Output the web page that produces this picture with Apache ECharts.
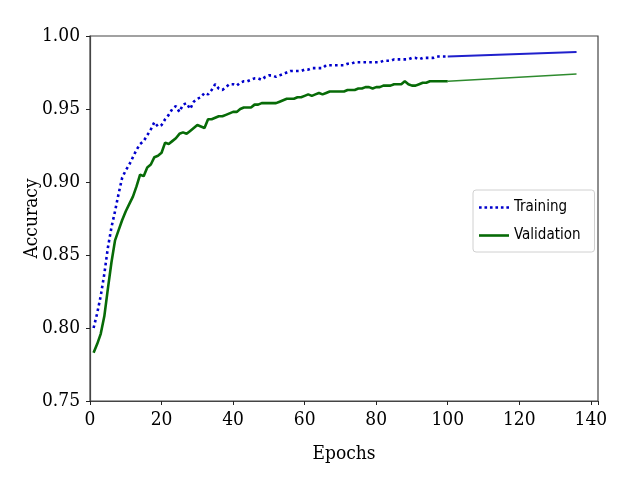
<!DOCTYPE html>
<html>
<head>
<meta charset="utf-8">
<script src="https://cdn.jsdelivr.net/npm/echarts@6/dist/echarts.min.js"></script>
<style>
html,body{margin:0;padding:0;background:#fff;}
#main{width:620px;height:484px;}
</style>
</head>
<body>
<div id="main"></div>
<script>
// accuracy per epoch (epochs 1..100)
var trainAcc = [
 0.800,0.810,0.822,0.837,0.855,0.869,0.880,0.892,0.903,0.908,
 0.912,0.917,0.922,0.926,0.928,0.932,0.936,0.941,0.938,0.939,
 0.943,0.946,0.950,0.952,0.948,0.953,0.954,0.950,0.955,0.957,
 0.958,0.961,0.960,0.963,0.967,0.964,0.963,0.965,0.967,0.967,
 0.966,0.968,0.969,0.969,0.970,0.971,0.971,0.970,0.972,0.973,
 0.973,0.972,0.973,0.974,0.975,0.976,0.976,0.976,0.976,0.977,
 0.977,0.978,0.978,0.978,0.978,0.980,0.980,0.980,0.980,0.980,
 0.980,0.981,0.981,0.982,0.982,0.982,0.982,0.982,0.982,0.982,
 0.982,0.983,0.983,0.983,0.984,0.984,0.984,0.984,0.984,0.985,
 0.985,0.984,0.985,0.985,0.985,0.985,0.986,0.986,0.986,0.986
];
var valAcc = [
 0.783,0.789,0.796,0.808,0.827,0.845,0.860,0.867,0.874,0.880,
 0.885,0.890,0.897,0.905,0.904,0.910,0.912,0.917,0.918,0.920,
 0.927,0.926,0.928,0.930,0.933,0.934,0.933,0.935,0.937,0.939,
 0.938,0.937,0.943,0.943,0.944,0.945,0.945,0.946,0.947,0.948,
 0.948,0.950,0.951,0.951,0.951,0.953,0.953,0.954,0.954,0.954,
 0.954,0.954,0.955,0.956,0.957,0.957,0.957,0.958,0.958,0.959,
 0.960,0.959,0.960,0.961,0.960,0.961,0.962,0.962,0.962,0.962,
 0.962,0.963,0.963,0.963,0.964,0.964,0.965,0.965,0.964,0.965,
 0.965,0.966,0.966,0.966,0.967,0.967,0.967,0.969,0.967,0.966,
 0.966,0.967,0.968,0.968,0.969,0.969,0.969,0.969,0.969,0.969
];
// extension lines (epoch, acc)
var trainExt = [[100,0.986],[136,0.989]];
var valExt = [[100,0.969],[136,0.974]];
var yTicks = [0.75,0.80,0.85,0.90,0.95,1.00];

function pairs(arr){
	var out=[];
	for(var i=0;i<arr.length;i++){ out.push([i+1,arr[i]]); }
	return out;
}

var serif = "'DejaVu Serif Condensed','DejaVu Serif',serif";
var sans = "'DejaVu Sans Condensed','DejaVu Sans',sans-serif";

// legend glyphs: a row of dots and a plain bar
var dotIcon = 'path://M0,0h2.6v2.6h-2.6z M5.4,0h2.6v2.6h-2.6z M10.8,0h2.6v2.6h-2.6z M16.2,0h2.6v2.6h-2.6z M21.6,0h2.6v2.6h-2.6z M27,0h2.6v2.6h-2.6z';
var barIcon = 'path://M0,0h30v2.6h-30z';

var myChart = echarts.init(document.getElementById('main'));
var option = {
	animation:false,
	backgroundColor:'#fff',
	grid:{left:90,right:22,top:36,bottom:83,show:true,borderColor:'#444',borderWidth:1.2},
	legend:{
		data:[{name:'Training',icon:dotIcon},{name:'Validation',icon:barIcon}],
		orient:'vertical',
		left:473,top:190,
		itemWidth:30,itemHeight:12,itemGap:13,symbolKeepAspect:true,
		padding:[10,14,9,6],
		backgroundColor:'#fff',
		borderColor:'#d0d0d0',borderWidth:1,borderRadius:3,
		textStyle:{fontFamily:sans,fontSize:15,color:'#000'}
	},
	xAxis:{
		type:'value',min:0,max:142,interval:20,
		name:'Epochs',nameLocation:'middle',nameGap:44,
		nameTextStyle:{fontFamily:serif,fontSize:19,color:'#000'},
		axisLine:{onZero:false,lineStyle:{color:'#444',width:1.2}},
		axisTick:{length:4,lineStyle:{color:'#222'}},
		axisLabel:{fontFamily:serif,fontSize:19,color:'#000',margin:10,
			formatter:function(v){return v<=140?String(v):'';}},
		splitLine:{show:false}
	},
	yAxis:{
		type:'value',min:yTicks[0],max:yTicks[yTicks.length-1],interval:0.05,
		name:'Accuracy',nameLocation:'middle',nameGap:48,nameMoveOverlap:false,
		nameTextStyle:{fontFamily:serif,fontSize:19,color:'#000'},
		axisLine:{show:true,lineStyle:{color:'#444',width:1.2}},
		axisTick:{show:true,length:4,lineStyle:{color:'#222'}},
		axisLabel:{fontFamily:serif,fontSize:19,color:'#000',margin:10,
			formatter:function(v){return v.toFixed(2);}},
		splitLine:{show:false}
	},
	series:[
		{name:'Training',type:'line',data:pairs(trainAcc),showSymbol:false,symbol:'none',
		 lineStyle:{color:'#0000cc',width:2.6,type:[2.6,3.2],cap:'butt'},itemStyle:{color:'#0000cc'},z:3},
		{name:'Validation',type:'line',data:pairs(valAcc),showSymbol:false,symbol:'none',
		 lineStyle:{color:'#076b07',width:2.6},itemStyle:{color:'#076b07'},z:2},
		{name:'trainExt',type:'line',data:trainExt,showSymbol:false,symbol:'none',
		 lineStyle:{color:'#2020cc',width:2}},
		{name:'valExt',type:'line',data:valExt,showSymbol:false,symbol:'none',
		 lineStyle:{color:'#2e8b2e',width:1.6}}
	]
};
myChart.setOption(option);
</script>
</body>
</html>
